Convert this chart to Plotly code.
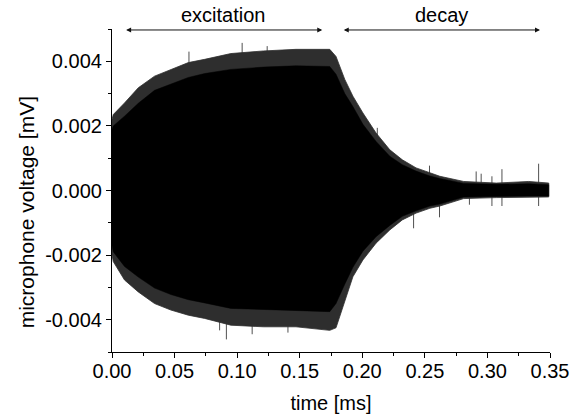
import plotly.graph_objects as go

# time grid of the envelope readings [ms]
t_env = [0.0, 0.001, 0.010, 0.021, 0.034, 0.047, 0.061, 0.074, 0.095, 0.121,
         0.147, 0.174, 0.179, 0.186, 0.1925, 0.2005, 0.211, 0.222, 0.232,
         0.243, 0.254, 0.262, 0.281, 0.307, 0.333, 0.349]

# outer (fringe) envelope of the oscillation [mV]
outer_upper = [0.0022, 0.00235, 0.00271, 0.00318, 0.00354, 0.00375, 0.00396,
               0.00406, 0.00424, 0.00432, 0.00437, 0.00437, 0.00415, 0.00344,
               0.00292, 0.00240, 0.00178, 0.00126, 0.00095, 0.00070, 0.00054,
               0.00044, 0.00028, 0.00023, 0.00028, 0.00023]
outer_lower = [-0.0020, -0.0022, -0.00277, -0.00314, -0.0035, -0.0037, -0.00386,
               -0.00396, -0.00417, -0.00422, -0.00422, -0.00433, -0.00425,
               -0.00340, -0.00267, -0.00215, -0.00163, -0.00122, -0.00091,
               -0.00070, -0.00055, -0.00048, -0.00025, -0.00022, -0.00020,
               -0.00020]

# inner (solid core) envelope [mV]
inner_upper = [0.0019, 0.00200, 0.00230, 0.00270, 0.00310, 0.00330, 0.00350,
               0.00362, 0.00375, 0.00382, 0.00386, 0.00384, 0.0036, 0.00300,
               0.0026, 0.00205, 0.00152, 0.00106, 0.0008, 0.00060, 0.00045,
               0.00037, 0.00022, 0.00019, 0.00021, 0.00018]
inner_lower = [-0.0017, -0.00190, -0.00235, -0.00268, -0.00302, -0.00322,
               -0.00338, -0.00348, -0.00365, -0.00370, -0.00372, -0.00375,
               -0.0035, -0.00290, -0.00238, -0.00188, -0.00143, -0.00108,
               -0.00080, -0.00063, -0.00048, -0.00042, -0.00020, -0.00018,
               -0.00017, -0.00017]

# isolated spikes sticking out of the envelope
spike_t = [0.0615, 0.086, 0.0914, 0.104, 0.112, 0.124, 0.1406, 0.212, 0.241,
           0.2537, 0.2617, 0.2856, 0.291, 0.295, 0.3036, 0.3036, 0.3116,
           0.3116, 0.3409, 0.3409]
spike_v = [0.0043, -0.00433, -0.00461, 0.00457, -0.00445, 0.00447, -0.0044,
           0.00194, -0.00117, 0.00077, -0.00083, -0.00044, 0.00059, 0.00052,
           0.00044, -0.00048, 0.00066, -0.00048, 0.00083, -0.00048]

# y tick labels
y_tickvals = [-0.004, -0.002, 0.0, 0.002, 0.004]
y_ticktext = ["-0.004", "-0.002", "0.000", "0.002", "0.004"]
y_minor = [-0.005, -0.003, -0.001, 0.001, 0.003, 0.005]

FONT = "Arial, Liberation Sans, sans-serif"
FS = 20

fig = go.Figure()

sx, sy = [], []
for t, v in zip(spike_t, spike_v):
    sx += [t, t, None]
    sy += [0.0, v, None]
fig.add_trace(go.Scatter(x=sx, y=sy, mode="lines",
                         line=dict(color="#505050", width=1),
                         hoverinfo="skip", showlegend=False))

fig.add_trace(go.Scatter(x=t_env + t_env[::-1], y=outer_upper + outer_lower[::-1],
                         mode="lines", fill="toself", fillcolor="#2e2e2e",
                         line=dict(color="#2e2e2e", width=0.8),
                         hoverinfo="skip", showlegend=False))
fig.add_trace(go.Scatter(x=t_env + t_env[::-1], y=inner_upper + inner_lower[::-1],
                         mode="lines", fill="toself", fillcolor="#000000",
                         line=dict(color="#000000", width=0.5),
                         hoverinfo="skip", showlegend=False))

# double-headed arrows + labels
arrows = [(0.0101, 0.168, "excitation"), (0.184, 0.342, "decay")]
for x0, x1, label in arrows:
    fig.add_annotation(x=x1, y=0.00497, ax=x0, ay=0.00497, xref="x", yref="y",
                       axref="x", ayref="y", text="", showarrow=True,
                       arrowhead=2, arrowside="end+start", arrowsize=1,
                       arrowwidth=1, arrowcolor="#111111",
                       standoff=0, startstandoff=0)
    fig.add_annotation(x=(x0 + x1) / 2, y=1.0, xref="x", yref="paper",
                       yanchor="bottom", yshift=1, text=label, showarrow=False,
                       font=dict(family=FONT, size=FS, color="#000000"))

# y-axis title as rotated text (sits a bit below the axis centre)
fig.add_annotation(x=-0.196, y=0.433, xref="paper", yref="paper",
                   text="microphone voltage [mV]", textangle=-90,
                   showarrow=False, xanchor="center", yanchor="middle",
                   font=dict(family=FONT, size=21, color="#000000"))

fig.update_layout(
    width=583, height=420,
    margin=dict(l=112, r=33, t=29, b=68),
    paper_bgcolor="white", plot_bgcolor="white",
    font=dict(family=FONT, size=FS, color="#000000"),
    showlegend=False,
)
fig.update_xaxes(
    range=[0, 0.35], dtick=0.05, tick0=0, tickformat=".2f",
    automargin=False, ticklabelstandoff=-4,
    showline=True, linecolor="black", linewidth=1.2, mirror=False,
    showgrid=False, zeroline=False,
    ticks="outside", ticklen=5, tickwidth=1.2, tickcolor="black",
    tickfont=dict(size=FS),
    minor=dict(dtick=0.025, tick0=0, ticks="outside", ticklen=3,
               tickwidth=1.2, tickcolor="black", showgrid=False),
    title=dict(text="time [ms]", standoff=14,
               font=dict(family=FONT, size=FS, color="#000000")),
)
fig.update_yaxes(
    range=[-0.005, 0.005], tickmode="array", tickvals=y_tickvals,
    ticktext=y_ticktext, tickfont=dict(size=FS),
    automargin=False,
    showline=True, linecolor="black", linewidth=1.2, mirror=False,
    showgrid=False, zeroline=False,
    ticks="outside", ticklen=5, tickwidth=1.2, tickcolor="black",
    minor=dict(tickmode="array", tickvals=y_minor, ticks="outside", ticklen=3,
               tickwidth=1.2, tickcolor="black", showgrid=False),
)

fig.write_html("out.html")
